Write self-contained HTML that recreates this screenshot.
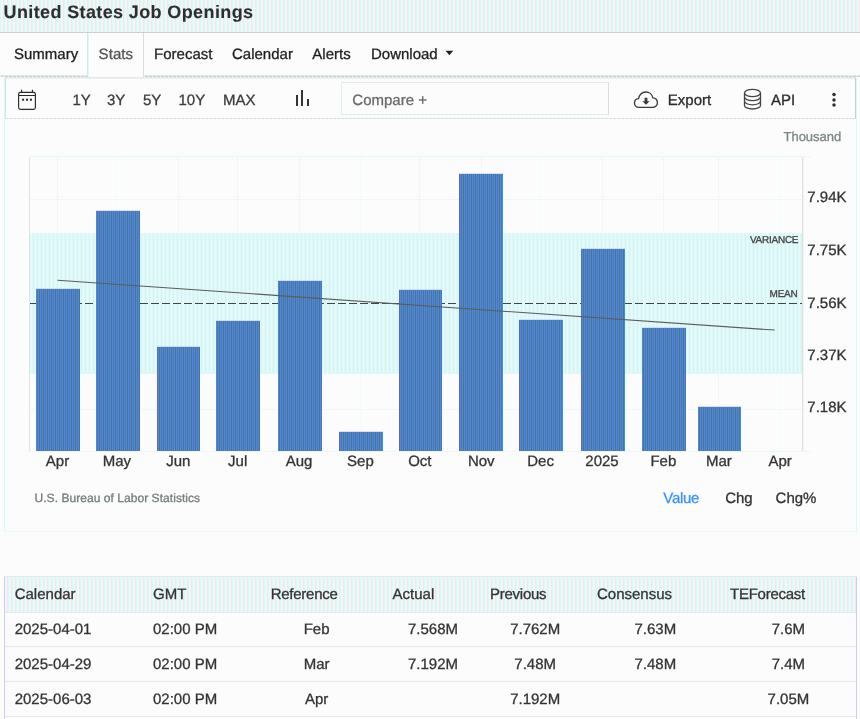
<!DOCTYPE html>
<html><head><meta charset="utf-8"><title>United States Job Openings</title>
<style>
html,body{margin:0;padding:0;}
body{width:860px;height:719px;overflow:hidden;position:relative;background:#fcfcfc;font-family:"Liberation Sans",sans-serif;color:#333;text-rendering:geometricPrecision;}
.a{position:absolute;}
.t{position:absolute;white-space:nowrap;line-height:1;-webkit-text-stroke:0.3px;}
.hd{background-image:linear-gradient(90deg,#ccffff 0,#ccffff 1px,#f6f4f4 1px,#f6f4f4 3px,#ebebeb 3px,#ebebeb 4px);background-size:4px 100%;}
.var{background-image:linear-gradient(90deg,#ccffff 0,#ccffff 1px,#f5f5f5 1px,#f5f5f5 2px,#ccffff 2px,#ccffff 3px,#ebebeb 3px,#ebebeb 4px);background-size:4px 100%;}
.bar{background-image:linear-gradient(90deg,#3399cc 0,#3399cc 1px,#6666cc 1px,#6666cc 2px,#3399cc 2px,#3399cc 3px,#666699 3px,#666699 4px);background-size:4px 100%;}
.bartop{background:rgba(196,196,250,0.6);}
.ln1{background-image:linear-gradient(90deg,#ccccff 0,#ccccff 1px,#cccccc 1px,#cccccc 4px,#dddddd 4px,#dddddd 5px,#cccccc 5px,#cccccc 8px);background-size:8px 100%;}
.ln2{background-image:linear-gradient(90deg,#ccffff 0,#ccffff 1px,#dddddd 1px,#dddddd 4px);background-size:4px 100%;}
.ln75{background-image:linear-gradient(90deg,#ccffff 0,#ccffff 1px,#e4e4e4 1px,#e4e4e4 4px);background-size:4px 100%;}
.lnT{background-image:linear-gradient(90deg,#ccffff 0,#ccffff 1px,#dcdcdc 1px,#dcdcdc 4px);background-size:4px 100%;}
.dot2{background-image:linear-gradient(90deg,#e4ffff 0,#e4ffff 1px,#fcfcfc 1px,#fcfcfc 4px);background-size:4px 100%;}
.ln76{background-image:linear-gradient(90deg,#e8eeee 0,#e8eeee 1px,#d0d0d0 1px,#d0d0d0 4px);background-size:4px 100%;}
.ln3{background-image:linear-gradient(90deg,#ccffff 0,#ccffff 1px,#e4e4e4 1px,#e4e4e4 4px);background-size:4px 100%;}
.dot{background-image:linear-gradient(90deg,#ccffff 0,#ccffff 1px,#f8f8f8 1px,#f8f8f8 2px,#f1f1f1 2px,#f1f1f1 3px,#f8f8f8 3px,#f8f8f8 4px);background-size:4px 100%;}
.vdotg{background-image:linear-gradient(180deg,#eeeeee 0,#eeeeee 1px,#fcfcfc 1px,#fcfcfc 2px);background-size:100% 2px;}
.vdot{background-image:linear-gradient(180deg,#ddffff 0,#ddffff 1px,#fcfcfc 1px,#fcfcfc 2px);background-size:100% 2px;}
</style></head><body>
<div id="root" style="position:absolute;left:0;top:0;width:860px;height:719px;will-change:transform;">

<div class="a hd" style="left:0px;top:0px;width:860px;height:32px;"></div>
<div class="a ln1" style="left:0px;top:32px;width:860px;height:1px;"></div>
<div class="t" style="top:3.00px;font-size:18px;color:#2e2e2e;font-weight:bold;letter-spacing:0.38px;left:3.50px;-webkit-text-stroke:0.1px;">United States Job Openings</div>
<div class="t" style="top:47.00px;font-size:15px;color:#1e1e1e;left:14.00px;">Summary</div>
<div class="t" style="top:47.00px;font-size:15px;color:#555;letter-spacing:0.08px;left:98.60px;">Stats</div>
<div class="t" style="top:47.00px;font-size:15px;color:#1e1e1e;left:154.10px;">Forecast</div>
<div class="t" style="top:47.00px;font-size:15px;color:#1e1e1e;left:232.00px;">Calendar</div>
<div class="t" style="top:47.00px;font-size:15px;color:#1e1e1e;left:312.30px;">Alerts</div>
<div class="t" style="top:47.00px;font-size:15px;color:#1e1e1e;left:371.00px;">Download</div>
<svg class="a" style="left:445px;top:50px" width="9" height="6" viewBox="0 0 9 6"><path d="M0.6 0.8h7.6l-3.8 4.4z" fill="#222"/></svg>
<div class="a ln75" style="left:0px;top:75px;width:88px;height:1px;"></div>
<div class="a ln76" style="left:0px;top:76px;width:88px;height:1px;"></div>
<div class="a ln75" style="left:144px;top:75px;width:716px;height:1px;"></div>
<div class="a ln76" style="left:144px;top:76px;width:716px;height:1px;"></div>
<div class="a " style="left:87px;top:33px;width:1px;height:44px;background:#e2e2e2;"></div>
<div class="a " style="left:88px;top:33px;width:1px;height:44px;background:#ccffff;"></div>
<div class="a " style="left:143px;top:33px;width:1px;height:44px;background:#dcdcdc;"></div>
<div class="a ln3" style="left:4px;top:77px;width:853px;height:1px;"></div>
<div class="a " style="left:5px;top:78px;width:851px;height:1px;background:#f0f0f0;"></div>
<div class="a " style="left:4px;top:77px;width:1px;height:455px;background:#ccffff;"></div>
<div class="a " style="left:856px;top:77px;width:1px;height:455px;background:#ccffff;"></div>
<div class="a " style="left:5px;top:78px;width:1px;height:41px;background:#dddddd;"></div>
<div class="a " style="left:855px;top:78px;width:1px;height:41px;background:#cccccc;"></div>
<div class="a lnT" style="left:5px;top:118px;width:851px;height:1px;background-position:-1px 0;"></div>
<div class="a dot" style="left:4px;top:531px;width:853px;height:1px;"></div>
<svg class="a" style="left:16px;top:87px" width="24" height="26" viewBox="0 0 24 26" fill="none" stroke="#2b2b2b" stroke-width="1.15">
<rect x="2.6" y="5.4" width="16.8" height="17" rx="1.8"/>
<path d="M2.6 8.5h16.8" stroke-width="1"/>
<path d="M5.6 2.8v2.6M16.4 2.8v2.6" stroke-width="1.1" stroke="#223"/>
<g fill="#2b2b2b" stroke="none"><rect x="6.1" y="11.7" width="2" height="2"/><rect x="10" y="11.7" width="2" height="2"/><rect x="13.9" y="11.7" width="2" height="2"/></g>
</svg>
<div class="t" style="top:93.00px;font-size:15px;color:#3c3c3c;left:72.50px;">1Y</div>
<div class="t" style="top:93.00px;font-size:15px;color:#3c3c3c;left:107.00px;">3Y</div>
<div class="t" style="top:93.00px;font-size:15px;color:#3c3c3c;left:143.00px;">5Y</div>
<div class="t" style="top:93.00px;font-size:15px;color:#3c3c3c;left:178.50px;">10Y</div>
<div class="t" style="top:93.00px;font-size:15px;color:#3c3c3c;left:223.00px;">MAX</div>
<div class="a " style="left:296px;top:95px;width:2px;height:11px;background:#333;"></div>
<div class="a " style="left:301px;top:90px;width:2px;height:16px;background:#333;"></div>
<div class="a " style="left:307px;top:99px;width:2px;height:7px;background:#333;"></div>
<div class="a ln3" style="left:341px;top:82px;width:267px;height:1px;background-position:-1px 0;"></div>
<div class="a ln3" style="left:341px;top:114px;width:267px;height:1px;background-position:-1px 0;"></div>
<div class="a " style="left:341px;top:82px;width:1px;height:33px;background:#d5f3f3;"></div>
<div class="a " style="left:608px;top:82px;width:1px;height:33px;background:#dddddd;"></div>
<div class="t" style="top:93.00px;font-size:15px;color:#6a6a6a;left:352.30px;">Compare +</div>
<svg class="a" style="left:632px;top:88px" width="28" height="24" viewBox="0 0 28 24" fill="none" stroke="#3a3a3a" stroke-width="1.35" stroke-linejoin="round">
<path d="M7.2 19.4 C4.2 19.4 2.5 17.3 2.5 15 C2.5 12.6 4.3 10.9 6.6 10.7 C6.9 6.9 9.9 4 13.8 4 C17.4 4 20.3 6.5 20.9 9.9 C23.5 10.1 25.4 12.1 25.4 14.6 C25.4 17.3 23.3 19.4 20.6 19.4 Z"/>
<path d="M12.6 9.8h2.8v3.4h2.2l-3.6 3.6l-3.6-3.6h2.2z" fill="#3a3a3a" stroke="none"/>
</svg>
<div class="t" style="top:93.00px;font-size:15px;color:#2a2a2a;left:667.80px;">Export</div>
<svg class="a" style="left:741px;top:86px" width="24" height="26" viewBox="0 0 24 26" fill="none" stroke="#444" stroke-width="1.3">
<ellipse cx="11.5" cy="7" rx="8" ry="3.6"/>
<path d="M3.5 7v12.4c0 2 3.6 3.6 8 3.6s8-1.600 8-3.600V7"/>
<path d="M3.5 11.100c0 2 3.6 3.600 8 3.600s8-1.600 8-3.600"/>
<path d="M3.5 15.200c0 2 3.600 3.600 8 3.600s8-1.600 8-3.600"/>
</svg>
<div class="t" style="top:93.00px;font-size:15px;color:#2a2a2a;left:771.00px;">API</div>
<svg class="a" style="left:828px;top:88px" width="12" height="24" viewBox="0 0 12 24"><g fill="#2e2e2e"><circle cx="6" cy="6.6" r="1.75"/><circle cx="6" cy="11.9" r="1.75"/><circle cx="6" cy="17.1" r="1.75"/></g></svg>
<div class="t" style="top:130.00px;font-size:13px;color:#7b8686;left:841.30px;transform:translateX(-100%);">Thousand</div>
<div class="a dot2" style="left:30px;top:157px;width:781px;height:1px;background-position:-2px 0;"></div>
<div class="a dot" style="left:30px;top:156px;width:781px;height:1px;background-position:-2px 0;"></div>
<div class="a dot" style="left:30px;top:199px;width:776px;height:1px;background-position:-2px 0;"></div>
<div class="a dot" style="left:30px;top:252px;width:776px;height:1px;background-position:-2px 0;"></div>
<div class="a dot" style="left:30px;top:304px;width:776px;height:1px;background-position:-2px 0;"></div>
<div class="a dot" style="left:30px;top:356px;width:776px;height:1px;background-position:-2px 0;"></div>
<div class="a dot" style="left:30px;top:409px;width:776px;height:1px;background-position:-2px 0;"></div>
<div class="a vdotg" style="left:57px;top:157px;width:1px;height:294px;"></div>
<div class="a vdot" style="left:116px;top:157px;width:1px;height:294px;"></div>
<div class="a vdotg" style="left:178px;top:157px;width:1px;height:294px;"></div>
<div class="a vdotg" style="left:237px;top:157px;width:1px;height:294px;"></div>
<div class="a vdotg" style="left:299px;top:157px;width:1px;height:294px;"></div>
<div class="a vdot" style="left:360px;top:157px;width:1px;height:294px;"></div>
<div class="a vdotg" style="left:419px;top:157px;width:1px;height:294px;"></div>
<div class="a vdotg" style="left:481px;top:157px;width:1px;height:294px;"></div>
<div class="a vdot" style="left:540px;top:157px;width:1px;height:294px;"></div>
<div class="a vdotg" style="left:602px;top:157px;width:1px;height:294px;"></div>
<div class="a vdotg" style="left:663px;top:157px;width:1px;height:294px;"></div>
<div class="a vdotg" style="left:718px;top:157px;width:1px;height:294px;"></div>
<div class="a vdot" style="left:780px;top:157px;width:1px;height:294px;"></div>
<div class="a var" style="left:30px;top:233px;width:772px;height:141px;"></div>
<div class="a " style="left:29px;top:157px;width:1px;height:295px;background:#e2e2e2;"></div>
<div class="a " style="left:802px;top:157px;width:1px;height:295px;background:#e0e0e0;"></div>
<div class="a " style="left:803px;top:157px;width:1px;height:295px;background:#f3f3f3;"></div>
<div class="a dot" style="left:29px;top:451px;width:783px;height:1px;background-position:-1px 0;"></div>
<svg class="a" style="left:0;top:300px" width="860" height="8" viewBox="0 300 860 8">
<line x1="30" y1="303.5" x2="802" y2="303.5" stroke="#444" stroke-width="1" stroke-dasharray="8 3"/>
</svg>
<div class="a bar" style="left:36px;top:289px;width:44px;height:162px;background-position:0px 0;"></div>
<div class="a bartop" style="left:36px;top:288px;width:44px;height:1px;background-position:0px 0;"></div>
<div class="a bar" style="left:96px;top:211px;width:44px;height:240px;background-position:0px 0;"></div>
<div class="a bartop" style="left:96px;top:210px;width:44px;height:1px;background-position:0px 0;"></div>
<div class="a bar" style="left:157px;top:347px;width:43px;height:104px;background-position:-1px 0;"></div>
<div class="a bartop" style="left:157px;top:346px;width:43px;height:1px;background-position:-1px 0;"></div>
<div class="a bar" style="left:216px;top:321px;width:44px;height:130px;background-position:0px 0;"></div>
<div class="a bartop" style="left:216px;top:320px;width:44px;height:1px;background-position:0px 0;"></div>
<div class="a bar" style="left:278px;top:281px;width:44px;height:170px;background-position:-2px 0;"></div>
<div class="a bartop" style="left:278px;top:280px;width:44px;height:1px;background-position:-2px 0;"></div>
<div class="a bar" style="left:339px;top:432px;width:44px;height:19px;background-position:-3px 0;"></div>
<div class="a bartop" style="left:339px;top:431px;width:44px;height:1px;background-position:-3px 0;"></div>
<div class="a bar" style="left:399px;top:290px;width:43px;height:161px;background-position:-3px 0;"></div>
<div class="a bartop" style="left:399px;top:289px;width:43px;height:1px;background-position:-3px 0;"></div>
<div class="a bar" style="left:459px;top:174px;width:44px;height:277px;background-position:-3px 0;"></div>
<div class="a bartop" style="left:459px;top:173px;width:44px;height:1px;background-position:-3px 0;"></div>
<div class="a bar" style="left:519px;top:320px;width:44px;height:131px;background-position:-3px 0;"></div>
<div class="a bartop" style="left:519px;top:319px;width:44px;height:1px;background-position:-3px 0;"></div>
<div class="a bar" style="left:581px;top:249px;width:44px;height:202px;background-position:-1px 0;"></div>
<div class="a bartop" style="left:581px;top:248px;width:44px;height:1px;background-position:-1px 0;"></div>
<div class="a bar" style="left:642px;top:328px;width:44px;height:123px;background-position:-2px 0;"></div>
<div class="a bartop" style="left:642px;top:327px;width:44px;height:1px;background-position:-2px 0;"></div>
<div class="a bar" style="left:698px;top:407px;width:43px;height:44px;background-position:-2px 0;"></div>
<div class="a bartop" style="left:698px;top:406px;width:43px;height:1px;background-position:-2px 0;"></div>
<svg class="a" style="left:0;top:270px" width="860" height="70" viewBox="0 270 860 70">
<line x1="57.5" y1="280.2" x2="774.7" y2="330.1" stroke="#5c5c5c" stroke-width="1.05"/>
</svg>
<div class="t" style="top:236.00px;font-size:10px;color:#444;letter-spacing:-0.25px;left:798.30px;transform:translateX(-100%);">VARIANCE</div>
<div class="t" style="top:290.00px;font-size:10px;color:#444;letter-spacing:-0.25px;left:797.50px;transform:translateX(-100%);">MEAN</div>
<div class="t" style="top:190.00px;font-size:15px;color:#333;left:807.30px;">7.94K</div>
<div class="t" style="top:243.00px;font-size:15px;color:#333;left:807.30px;">7.75K</div>
<div class="t" style="top:296.00px;font-size:15px;color:#333;left:807.30px;">7.56K</div>
<div class="t" style="top:348.00px;font-size:15px;color:#333;left:807.30px;">7.37K</div>
<div class="t" style="top:400.00px;font-size:15px;color:#333;left:807.30px;">7.18K</div>
<div class="t" style="top:454.00px;font-size:15px;color:#333;left:57.50px;transform:translateX(-50%);">Apr</div>
<div class="t" style="top:454.00px;font-size:15px;color:#333;left:116.90px;transform:translateX(-50%);">May</div>
<div class="t" style="top:454.00px;font-size:15px;color:#333;left:178.28px;transform:translateX(-50%);">Jun</div>
<div class="t" style="top:454.00px;font-size:15px;color:#333;left:237.68px;transform:translateX(-50%);">Jul</div>
<div class="t" style="top:454.00px;font-size:15px;color:#333;left:299.06px;transform:translateX(-50%);">Aug</div>
<div class="t" style="top:454.00px;font-size:15px;color:#333;left:360.44px;transform:translateX(-50%);">Sep</div>
<div class="t" style="top:454.00px;font-size:15px;color:#333;left:419.84px;transform:translateX(-50%);">Oct</div>
<div class="t" style="top:454.00px;font-size:15px;color:#333;left:481.22px;transform:translateX(-50%);">Nov</div>
<div class="t" style="top:454.00px;font-size:15px;color:#333;left:540.62px;transform:translateX(-50%);">Dec</div>
<div class="t" style="top:454.00px;font-size:15px;color:#333;left:602.00px;transform:translateX(-50%);">2025</div>
<div class="t" style="top:454.00px;font-size:15px;color:#333;left:663.38px;transform:translateX(-50%);">Feb</div>
<div class="t" style="top:454.00px;font-size:15px;color:#333;left:718.82px;transform:translateX(-50%);">Mar</div>
<div class="t" style="top:454.00px;font-size:15px;color:#333;left:780.20px;transform:translateX(-50%);">Apr</div>
<div class="t" style="top:492.00px;font-size:12px;color:#747c7c;letter-spacing:0.05px;left:34.50px;">U.S. Bureau of Labor Statistics</div>
<div class="t" style="top:491.00px;font-size:15px;color:#3a92f5;letter-spacing:-0.3px;left:663.30px;">Value</div>
<div class="t" style="top:491.00px;font-size:15px;color:#333;left:725.20px;">Chg</div>
<div class="t" style="top:491.00px;font-size:15px;color:#333;left:775.60px;">Chg%</div>
<div class="a hd" style="left:5px;top:577px;width:851px;height:35px;background-position:-1px 0;"></div>
<div class="a " style="left:4px;top:576px;width:1px;height:143px;background:#ccccff;"></div>
<div class="a " style="left:856px;top:576px;width:1px;height:143px;background:#ccccff;"></div>
<div class="a ln3" style="left:4px;top:576px;width:853px;height:1px;"></div>
<div class="a ln3" style="left:5px;top:612px;width:851px;height:1px;background-position:-1px 0;"></div>
<div class="a ln3" style="left:5px;top:646px;width:851px;height:1px;background-position:-1px 0;"></div>
<div class="a ln3" style="left:5px;top:681px;width:851px;height:1px;background-position:-1px 0;"></div>
<div class="a ln3" style="left:5px;top:716px;width:851px;height:1px;background-position:-1px 0;"></div>
<div class="t" style="top:587.00px;font-size:15px;color:#333;left:14.70px;">Calendar</div>
<div class="t" style="top:587.00px;font-size:15px;color:#333;left:153.00px;">GMT</div>
<div class="t" style="top:587.00px;font-size:15px;color:#333;letter-spacing:-0.25px;left:270.70px;">Reference</div>
<div class="t" style="top:587.00px;font-size:15px;color:#333;left:392.60px;">Actual</div>
<div class="t" style="top:587.00px;font-size:15px;color:#333;letter-spacing:-0.25px;left:490.00px;">Previous</div>
<div class="t" style="top:587.00px;font-size:15px;color:#333;left:597.00px;">Consensus</div>
<div class="t" style="top:587.00px;font-size:15px;color:#333;letter-spacing:-0.25px;left:730.00px;">TEForecast</div>
<div class="t" style="top:622.00px;font-size:15px;color:#333;left:14.70px;">2025-04-01</div>
<div class="t" style="top:622.00px;font-size:15px;color:#333;left:153.00px;">02:00 PM</div>
<div class="t" style="top:622.00px;font-size:15px;color:#333;left:316.60px;transform:translateX(-50%);">Feb</div>
<div class="t" style="top:622.00px;font-size:15px;color:#333;left:433.00px;transform:translateX(-50%);">7.568M</div>
<div class="t" style="top:622.00px;font-size:15px;color:#333;left:535.20px;transform:translateX(-50%);">7.762M</div>
<div class="t" style="top:622.00px;font-size:15px;color:#333;left:655.30px;transform:translateX(-50%);">7.63M</div>
<div class="t" style="top:622.00px;font-size:15px;color:#333;left:788.40px;transform:translateX(-50%);">7.6M</div>
<div class="t" style="top:657.00px;font-size:15px;color:#333;left:14.70px;">2025-04-29</div>
<div class="t" style="top:657.00px;font-size:15px;color:#333;left:153.00px;">02:00 PM</div>
<div class="t" style="top:657.00px;font-size:15px;color:#333;left:316.60px;transform:translateX(-50%);">Mar</div>
<div class="t" style="top:657.00px;font-size:15px;color:#333;left:433.00px;transform:translateX(-50%);">7.192M</div>
<div class="t" style="top:657.00px;font-size:15px;color:#333;left:535.20px;transform:translateX(-50%);">7.48M</div>
<div class="t" style="top:657.00px;font-size:15px;color:#333;left:655.30px;transform:translateX(-50%);">7.48M</div>
<div class="t" style="top:657.00px;font-size:15px;color:#333;left:788.40px;transform:translateX(-50%);">7.4M</div>
<div class="t" style="top:692.00px;font-size:15px;color:#333;left:14.70px;">2025-06-03</div>
<div class="t" style="top:692.00px;font-size:15px;color:#333;left:153.00px;">02:00 PM</div>
<div class="t" style="top:692.00px;font-size:15px;color:#333;left:316.60px;transform:translateX(-50%);">Apr</div>
<div class="t" style="top:692.00px;font-size:15px;color:#333;left:535.20px;transform:translateX(-50%);">7.192M</div>
<div class="t" style="top:692.00px;font-size:15px;color:#333;left:788.40px;transform:translateX(-50%);">7.05M</div>
</div></body></html>
